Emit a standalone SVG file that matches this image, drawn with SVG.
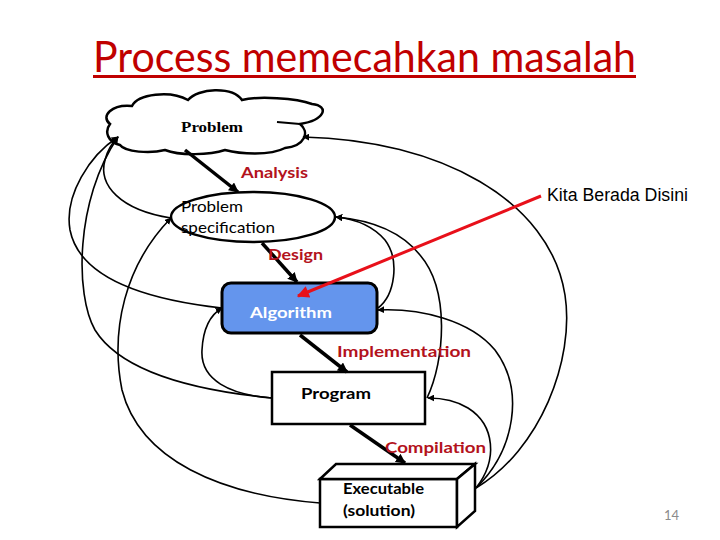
<svg xmlns="http://www.w3.org/2000/svg" width="720" height="540" viewBox="0 0 720 540">
<style>
.lab{font-family:Lato,"Noto Sans",sans-serif;font-weight:bold;fill:#b3121c;font-size:16px}
.ntxt{font-family:Lato,"Noto Sans",sans-serif;fill:#000;font-size:16px}
.thin{fill:none;stroke:#000;stroke-width:1.6}
.thick{fill:none;stroke:#000;stroke-width:3.5}
.shape{fill:#fff;stroke:#000;stroke-width:2.5}
</style>
<defs>
<marker id="ah" viewBox="0 0 10 10" refX="9" refY="5" markerWidth="7" markerHeight="7" markerUnits="userSpaceOnUse" orient="auto"><path d="M0,0 L10,5 L0,10 Z" fill="#000"/></marker>
<marker id="ahb" viewBox="0 0 10 10" refX="9" refY="5" markerWidth="10" markerHeight="10" markerUnits="userSpaceOnUse" orient="auto"><path d="M0,0 L10,5 L0,10 Z" fill="#000"/></marker>
<marker id="ahr" viewBox="0 0 10 10" refX="9" refY="5" markerWidth="14" markerHeight="12" markerUnits="userSpaceOnUse" orient="auto"><path d="M0,0 L10,5 L0,10 Z" fill="#e8101a"/></marker>
</defs>
<rect width="720" height="540" fill="#fff"/>
<g id="title">
<text x="93" y="72" font-family="Lato,'Noto Sans',sans-serif" font-size="43" fill="#c00000" textLength="543" lengthAdjust="spacingAndGlyphs">Process memecahkan masalah</text>
<rect x="93" y="75" width="543" height="3" fill="#c00000"/>
</g>
<g id="problem">
<path class="shape" stroke-width="2" d="M110,124 C100,116 112,104 132,106 C138,94 170,90 188,100 C198,88 232,86 242,100 C258,96 296,98 312,104 C330,106 325,120 300,124 C310,132 305,146 285,148 C270,156 240,154 225,150 C210,155 180,156 165,150 C150,154 125,152 120,145 C108,142 104,132 110,124 Z"/>
<path d="M277,122 L300,124" stroke="#000" stroke-width="2" fill="none"/>
<text x="181" y="132" font-family="'Liberation Serif',serif" font-weight="bold" font-size="15" textLength="62" lengthAdjust="spacingAndGlyphs">Problem</text>
</g>
<g id="spec">
<ellipse class="shape" cx="253" cy="217" rx="82" ry="25"/>
<text class="ntxt" x="181" y="212" font-size="15" textLength="62" lengthAdjust="spacingAndGlyphs">Problem</text>
<text class="ntxt" x="181" y="233" font-size="15" textLength="94" lengthAdjust="spacingAndGlyphs">specification</text>
</g>
<g id="algorithm">
<rect x="222" y="283" width="155" height="50" rx="9" fill="#6495ed" stroke="#000" stroke-width="3"/>
<text class="ntxt" x="250" y="318" font-size="17" font-weight="bold" style="fill:#fff" textLength="82" lengthAdjust="spacingAndGlyphs">Algorithm</text>
</g>
<g id="program">
<rect class="shape" x="272" y="372" width="153" height="52"/>
<text class="ntxt" x="301" y="399" font-size="17" font-weight="bold" textLength="70" lengthAdjust="spacingAndGlyphs">Program</text>
</g>
<g id="executable">
<rect class="shape" x="320" y="479" width="137" height="48"/>
<polygon class="shape" points="320,479 336,464 475,464 457,479"/>
<polygon class="shape" points="457,479 475,464 475,511 457,527"/>
<text class="ntxt" x="343" y="494" font-size="15" font-weight="bold" textLength="81" lengthAdjust="spacingAndGlyphs">Executable</text>
<text class="ntxt" x="343" y="516" font-size="15" font-weight="bold" textLength="72" lengthAdjust="spacingAndGlyphs">(solution)</text>
</g>
<g id="connectors">
<line class="thick" x1="185" y1="150" x2="238" y2="192" marker-end="url(#ahb)"/>
<line class="thick" x1="262" y1="243" x2="297" y2="282" marker-end="url(#ahb)"/>
<line class="thick" x1="300" y1="335" x2="347" y2="372" marker-end="url(#ahb)"/>
<line class="thick" x1="350" y1="425" x2="405" y2="463" marker-end="url(#ahb)"/>
<path class="thin" d="M171,218 C120,210 98,185 105,160 Q108,147 118,137" marker-end="url(#ah)"/>
<path class="thin" d="M222,308 C150,300 80,280 70,230 C64,195 90,155 118,137" marker-end="url(#ah)"/>
<path class="thin" d="M272,398 C190,390 120,370 95,330 C75,295 75,200 118,137" marker-end="url(#ah)"/>
<path class="thin" d="M320,503 C220,495 140,460 122,390 C110,330 125,265 171,218" marker-end="url(#ah)"/>
<path class="thin" d="M272,398 C230,395 200,380 202,350 C203,330 210,315 222,308" marker-end="url(#ah)"/>
<path class="thin" d="M476,488 C540,450 575,360 565,295 C550,200 440,140 303,137" marker-end="url(#ah)"/>
<path class="thin" d="M427,398 C445,360 450,290 420,255 C400,230 370,220 336,217" marker-end="url(#ah)"/>
<path class="thin" d="M378,308 C395,295 400,260 385,240 C372,225 355,219 336,217" marker-end="url(#ah)"/>
<path class="thin" d="M476,488 C515,450 525,390 495,350 C470,320 420,308 378,310" marker-end="url(#ah)"/>
<path class="thin" d="M476,488 C498,460 495,425 468,408 C455,400 440,398 428,398" marker-end="url(#ah)"/>
<line x1="541" y1="196" x2="298" y2="296" stroke="#e8101a" stroke-width="3" marker-end="url(#ahr)"/>
</g>
<g id="labels">
<text class="lab" x="241" y="178" textLength="67" lengthAdjust="spacingAndGlyphs">Analysis</text>
<text class="lab" x="268" y="260" textLength="55" lengthAdjust="spacingAndGlyphs">Design</text>
<text class="lab" x="337" y="357" textLength="134" lengthAdjust="spacingAndGlyphs">Implementation</text>
<text class="lab" x="385" y="453" textLength="101" lengthAdjust="spacingAndGlyphs">Compilation</text>
<text x="547" y="201" font-family="'Liberation Sans',Arial,sans-serif" font-size="17.5" fill="#000" textLength="141" lengthAdjust="spacingAndGlyphs">Kita Berada Disini</text>
<text x="664" y="520" font-family="Lato,'Noto Sans',sans-serif" font-size="13" fill="#8b8b8b">14</text>
</g>
</svg>
